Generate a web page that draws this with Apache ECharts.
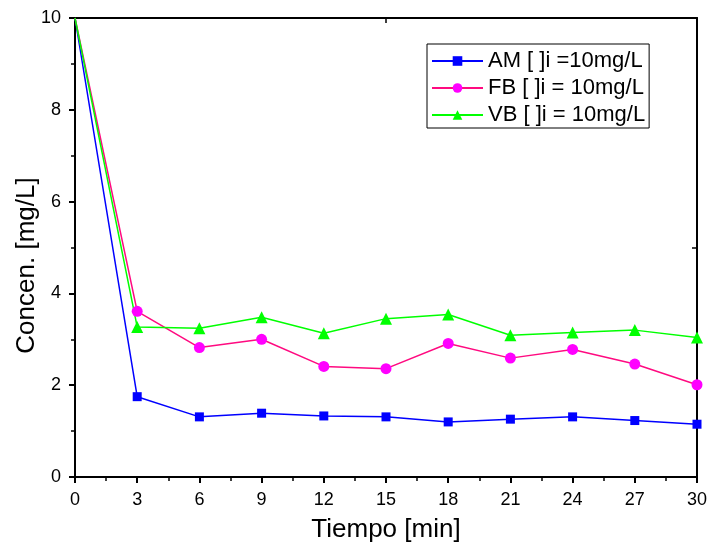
<!DOCTYPE html>
<html>
<head>
<meta charset="utf-8">
<script src="https://cdn.jsdelivr.net/npm/echarts@6/dist/echarts.min.js"></script>
<style>html,body{margin:0;padding:0;background:#fff}#c{width:712px;height:544px}</style>
</head>
<body>
<div id="c"></div>
<script>
var times = [0, 3, 6, 9, 12, 15, 18, 21, 24, 27, 30];
var amValues = [10, 1.75, 1.31, 1.39, 1.33, 1.31, 1.20, 1.26, 1.31, 1.23, 1.15];
var fbValues = [10, 3.61, 2.82, 3.00, 2.41, 2.36, 2.91, 2.59, 2.78, 2.46, 2.01];
var vbValues = [10, 3.27, 3.24, 3.48, 3.13, 3.45, 3.54, 3.09, 3.15, 3.20, 3.04];
var seriesNames = ['AM [ ]i =10mg/L', 'FB [ ]i = 10mg/L', 'VB [ ]i = 10mg/L'];

function pts(vals) {
  return vals.map(function (v, i) {
    var d = { value: [times[i], v] };
    if (i === 0) d.symbol = 'none';
    return d;
  });
}

var chart = echarts.init(document.getElementById('c'), null, { renderer: 'canvas' });
var font = 'Liberation Sans, Arial, sans-serif';
chart.setOption({
  animation: false,
  backgroundColor: '#fff',
  grid: { left: 75, right: 15, top: 18, bottom: 67, containLabel: false, outerBoundsMode: 'none' },
  legend: {
    orient: 'vertical',
    left: 427, top: 44,
    padding: [6, 4, 2, 4],
    itemGap: 5,
    itemWidth: 51, itemHeight: 12,
    borderColor: '#000', borderWidth: 1,
    borderRadius: 0,
    backgroundColor: '#fff',
    textStyle: { fontFamily: font, fontSize: 22, color: '#000' },
    data: seriesNames
  },
  xAxis: [{
    type: 'value', min: 0, max: 30, interval: 3,
    name: 'Tiempo [min]', nameLocation: 'middle', nameGap: 40, nameMoveOverlap: false,
    nameTextStyle: { fontFamily: font, fontSize: 26, color: '#000' },
    axisLine: { lineStyle: { color: '#000', width: 2 } },
    axisTick: { inside: false, length: 6, lineStyle: { color: '#000', width: 2 } },
    minorTick: { show: true, splitNumber: 2, length: 4, lineStyle: { color: '#000', width: 1.5 } },
    axisLabel: { fontFamily: font, fontSize: 18, color: '#000', margin: 14 },
    splitLine: { show: false }
  }, {
    type: 'value', min: 0, max: 30, interval: 15, position: 'top',
    axisLine: { onZero: false, lineStyle: { color: '#000', width: 2 } },
    axisTick: { inside: true, length: 5, lineStyle: { color: '#000', width: 1.5 } },
    axisLabel: { show: false },
    splitLine: { show: false }
  }],
  yAxis: [{
    type: 'value', min: 0, max: 10, interval: 2,
    name: 'Concen. [mg/L]', nameLocation: 'middle', nameGap: 35, nameMoveOverlap: false,
    nameTextStyle: { fontFamily: font, fontSize: 26, color: '#000', padding: [0, 36, 0, 0] },
    axisLine: { show: true, lineStyle: { color: '#000', width: 2 } },
    axisTick: { show: true, inside: false, length: 6, lineStyle: { color: '#000', width: 2 } },
    minorTick: { show: true, splitNumber: 2, length: 4, lineStyle: { color: '#000', width: 1.5 } },
    axisLabel: { fontFamily: font, fontSize: 18, color: '#000', margin: 14 },
    splitLine: { show: false }
  }, {
    type: 'value', min: 0, max: 10, interval: 5, position: 'right',
    axisLine: { show: true, onZero: false, lineStyle: { color: '#000', width: 2 } },
    axisTick: { show: true, inside: true, length: 5, lineStyle: { color: '#000', width: 1.5 } },
    axisLabel: { show: false },
    splitLine: { show: false }
  }],
  series: [{
    name: seriesNames[0], type: 'line', data: pts(amValues),
    symbol: 'rect', symbolSize: 9, clip: false,
    lineStyle: { color: '#0000FF', width: 1.5 },
    itemStyle: { color: '#0000FF' }
  }, {
    name: seriesNames[1], type: 'line', data: pts(fbValues),
    symbol: 'circle', symbolSize: 11, clip: false,
    lineStyle: { color: '#FF0A80', width: 1.5 },
    itemStyle: { color: '#FF00FF' }
  }, {
    name: seriesNames[2], type: 'line', data: pts(vbValues),
    symbol: 'triangle', symbolSize: 12, clip: false,
    lineStyle: { color: '#00FF00', width: 1.5 },
    itemStyle: { color: '#00FF00' }
  }]
});
</script>
</body>
</html>
